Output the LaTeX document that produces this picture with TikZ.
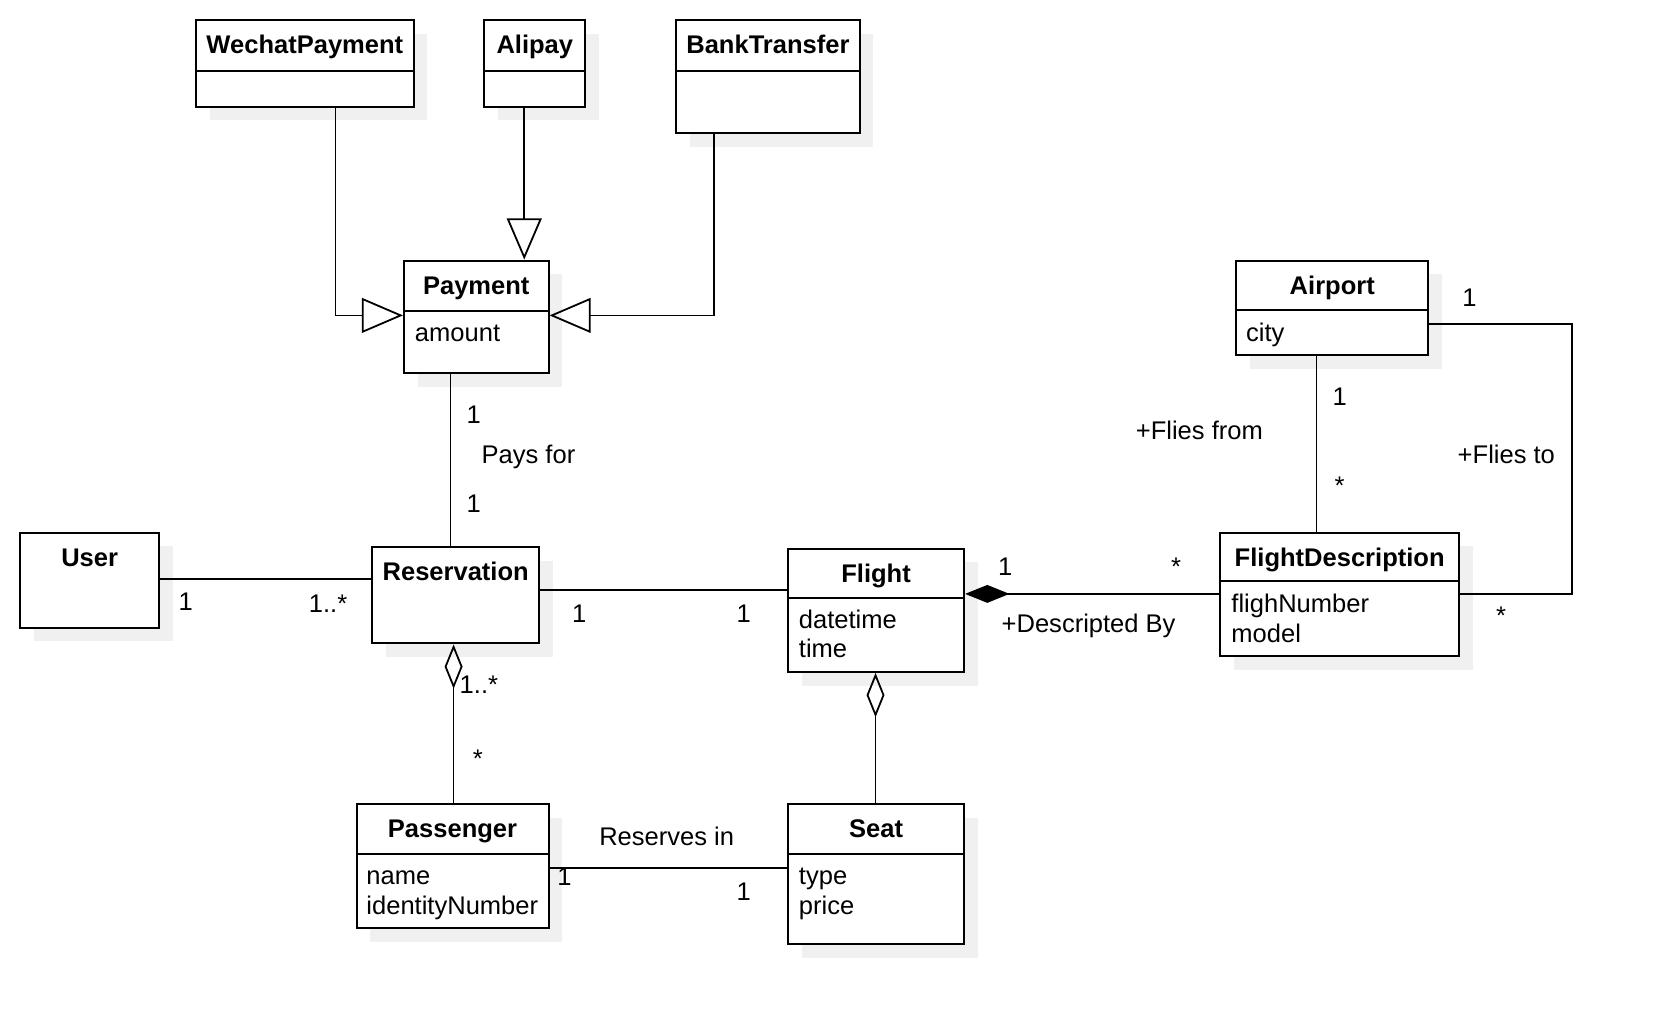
\documentclass[tikz,border=0pt]{standalone}
\usepackage{fontspec}
\setmainfont{Liberation Sans}
\usetikzlibrary{arrows.meta,fit,calc}
\newcommand\fs{\fontsize{12.1}{14}\selectfont}
\definecolor{shadowc}{HTML}{F0F0F0}
\tikzset{
  box/.style={draw, line width=0.95pt, fill=white, inner sep=0pt},
  ttl/.style={font=\fs\bfseries, inner sep=0pt, text height=8.7pt, text depth=0pt},
  attr/.style={font=\fs, inner sep=0pt, anchor=west, text height=8.7pt, text depth=0pt},
  lbl/.style={font=\fs, inner sep=0pt, text height=8.7pt, text depth=0pt},
  conn/.style={line width=0.85pt},
  gen/.style={conn, -{Triangle[open, length=19.5pt, width=16.5pt]}},
  agg/.style={conn, {Diamond[open, length=21pt, width=8.5pt]}-},
  comp/.style={conn, {Diamond[length=21pt, width=8.5pt]}-},
}
% #1 name, #2 x1, #3 y1, #4 x2, #5 y2, #6 title
\newcommand\umlclass[6]{%
  \fill[shadowc] (#2+13,#3+13) rectangle (#4+13,#5+13);
  \node[box, fit={(#2,#3) (#4,#5)}] (#1) {};
  \node[ttl] (#1-title) at ($(#1.north)+(0,24)$) {#6};
}
\newcommand\divider[2]{\draw[line width=0.95pt] (#1.west |- 0,#2) -- (#1.east |- 0,#2);}
\begin{document}
\begin{tikzpicture}[x=0.5pt,y=-0.5pt]
\useasboundingbox (0,0) rectangle (1568,971);

% classes
\umlclass{wechat}{186}{19}{392}{101}{WechatPayment}
\divider{wechat}{67}
\umlclass{alipay}{459}{19}{555}{101}{Alipay}
\divider{alipay}{67}
\umlclass{bank}{641}{19}{815}{126}{BankTransfer}
\divider{bank}{67}
\umlclass{payment}{383}{247}{520}{354}{Payment}
\divider{payment}{295}
\node[attr] (payment-a) at (393,315) {amount};

\umlclass{user}{19}{505}{151}{595}{User}
\umlclass{reservation}{353}{519}{511}{610}{Reservation}

\umlclass{flight}{747}{520}{914}{637}{Flight}
\divider{flight}{567}
\node[attr] (flight-a1) at (757,587) {datetime};
\node[attr] (flight-a2) at (757,615) {time};

\umlclass{fd}{1157}{505}{1383}{622}{FlightDescription}
\divider{fd}{551}
\node[attr] (fd-a1) at (1167,572) {flighNumber};
\node[attr] (fd-a2) at (1167,600) {model};

\umlclass{airport}{1172}{247}{1354}{337}{Airport}
\divider{airport}{294}
\node[attr] (airport-a) at (1181,315) {city};

\umlclass{passenger}{338}{762}{520}{880}{Passenger}
\divider{passenger}{810}
\node[attr] (passenger-a1) at (347,830) {name};
\node[attr] (passenger-a2) at (347,858) {identityNumber};

\umlclass{seat}{747}{762}{914}{895}{Seat}
\divider{seat}{810}
\node[attr] (seat-a1) at (757,830) {type};
\node[attr] (seat-a2) at (757,858) {price};

% generalizations
\draw[gen] (wechat.south -| 318,0) |- (payment.west |- 0,299);
\draw[gen] (alipay.south -| 497,0) -- (payment.north -| 497,0);
\draw[gen] (bank.south -| 677,0) |- (payment.east |- 0,299);

% associations
\draw[conn] (payment.south -| 427,0) -- (reservation.north -| 427,0);
\node[lbl] (l1) at (449,393) {1};
\node[lbl] (l2) at (501,431) {Pays for};
\node[lbl] (l3) at (449,477) {1};

\draw[conn] (user.east |- 0,549) -- (reservation.west |- 0,549);
\node[lbl] (l4) at (176,570) {1};
\node[lbl] (l5) at (311,572) {1..*};

\draw[conn] (reservation.east |- 0,559) -- (flight.west |- 0,559);
\node[lbl] (l6) at (549,581) {1};
\node[lbl] (l7) at (705,581) {1};

\draw[comp] (flight.east |- 0,563) -- (fd.west |- 0,563);
\node[lbl] (l8) at (953,537) {1};
\node[lbl] (l9) at (1115,537) {*};
\node[lbl] (l10) at (1032,591) {+Descripted By};

\draw[conn] (airport.south -| 1248,0) -- (fd.north -| 1248,0);
\node[lbl] (l11) at (1270,376) {1};
\node[lbl] (l12) at (1270,460) {*};
\node[lbl] (l13) at (1137,408) {+Flies from};

\draw[conn] (airport.east |- 0,307) -- (1490,307) -- (1490,563) -- (fd.east |- 0,563);
\node[lbl] (l14) at (1393,282) {1};
\node[lbl] (l15) at (1428,431) {+Flies to};
\node[lbl] (l16) at (1423,583) {*};

\draw[agg] (reservation.south -| 430,0) -- (passenger.north -| 430,0);
\node[lbl] (l17) at (454,649) {1..*};
\node[lbl] (l18) at (453,719) {*};

\draw[agg] (flight.south -| 830,0) -- (seat.north -| 830,0);

\draw[conn] (passenger.east |- 0,823) -- (seat.west |- 0,823);
\node[lbl] (l19) at (632,793) {Reserves in};
\node[lbl] (l20) at (535,831) {1};
\node[lbl] (l21) at (705,845) {1};
\end{tikzpicture}
\end{document}
